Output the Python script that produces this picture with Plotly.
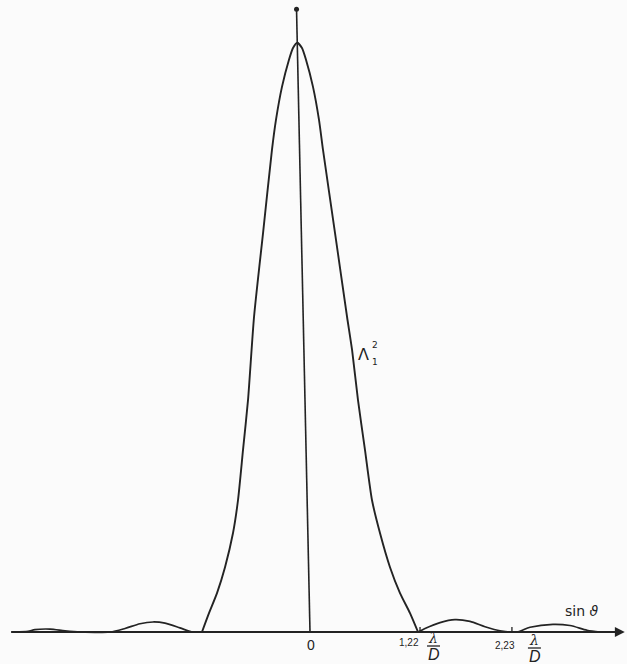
import plotly.graph_objects as go

# x in units of lambda/D, y = relative intensity (Lambda_1^2)
main_x = [-1.176, -1.099, -1.011, -0.923, -0.835, -0.780, -0.725, -0.670, -0.604,
          -0.505, -0.407, -0.363, -0.297, -0.220, -0.176, -0.129,
          -0.077, -0.033, 0.044, 0.110, 0.154, 0.286, 0.418, 0.473, 0.538,
          0.615, 0.692, 0.780, 0.890, 1.000, 1.110, 1.198]
main_y = [0.000, 0.032, 0.066, 0.110, 0.168, 0.224, 0.309, 0.394, 0.535,
          0.677, 0.818, 0.869, 0.925, 0.971, 0.991, 1.000,
          0.991, 0.971, 0.925, 0.869, 0.818, 0.677, 0.535, 0.479, 0.394,
          0.309, 0.224, 0.168, 0.110, 0.066, 0.032, 0.000]

right_lobe_x = [1.198, 1.275, 1.440, 1.604, 1.769, 1.934, 2.099, 2.286,
                2.429, 2.681, 2.868, 3.055, 3.198]
right_lobe_y = [0.000, 0.006, 0.016, 0.021, 0.018, 0.009, 0.002, 0.000,
                0.008, 0.013, 0.011, 0.003, 0.000]

left_lobe_x = [-1.176, -1.286, -1.418, -1.582, -1.714, -1.857, -2.022, -2.187,
               -2.516, -2.681, -2.846, -3.011, -3.088, -3.231]
left_lobe_y = [0.000, 0.000, 0.007, 0.015, 0.017, 0.014, 0.006, 0.000,
               0.000, 0.002, 0.005, 0.004, 0.001, 0.000]

# slightly tilted optical axis (hand drawn), with a dot at its top
axis_line_x = [-0.137, 0.011]
axis_line_y = [1.057, 0.0]

tick_vals = [1.22, 2.23]
tick_labels = ["1,22", "2,23"]
label_dx = [-11, -7]       # pixel offsets of the numbers
label_dy = [-10, -13]
frac_dx = [13, 22]         # pixel offsets of lambda/D fractions
frac_dy = [0, -2]

x_start, x_end = -3.29, 3.47

ink = "#232323"
fig = go.Figure()

fig.add_trace(go.Scatter(x=left_lobe_x, y=left_lobe_y, mode="lines",
                         line=dict(color=ink, width=1.7, shape="spline", smoothing=0.8)))
fig.add_trace(go.Scatter(x=right_lobe_x, y=right_lobe_y, mode="lines",
                         line=dict(color=ink, width=1.7, shape="spline", smoothing=0.8)))
fig.add_trace(go.Scatter(x=main_x, y=main_y, mode="lines",
                         line=dict(color=ink, width=1.9, shape="spline", smoothing=0.6)))
fig.add_trace(go.Scatter(x=axis_line_x, y=axis_line_y, mode="lines",
                         line=dict(color=ink, width=1.6)))
fig.add_trace(go.Scatter(x=[axis_line_x[0]], y=[axis_line_y[0]], mode="markers",
                         marker=dict(color=ink, size=5)))

# horizontal axis with arrow
fig.add_annotation(x=x_end, y=0, ax=x_start, ay=0, xref="x", yref="y",
                   axref="x", ayref="y", showarrow=True, arrowhead=2,
                   arrowsize=1.1, arrowwidth=1.8, arrowcolor=ink, text="", standoff=0)

fig.add_annotation(x=0.011, y=0, text="0", showarrow=False, yshift=-13, xshift=1,
                   font=dict(family="Liberation Sans", size=14, color=ink))

for tv, tl, lx, ly, fx, fy in zip(tick_vals, tick_labels, label_dx, label_dy, frac_dx, frac_dy):
    fig.add_shape(type="line", xref="x", yref="y", ysizemode="pixel", yanchor=0,
                  x0=tv, x1=tv, y0=0, y1=5, line=dict(color=ink, width=1.3))
    fig.add_annotation(x=tv, y=0, text=tl, showarrow=False, xshift=lx, yshift=ly,
                       font=dict(family="Liberation Sans", size=10, color=ink))
    fig.add_annotation(x=tv, y=0, text="<i>λ</i>", showarrow=False, xshift=fx, yshift=fy - 6,
                       font=dict(family="DejaVu Serif", size=14, color=ink))
    fig.add_annotation(x=tv, y=0, text="<i>D</i>", showarrow=False, xshift=fx + 1, yshift=fy - 22,
                       font=dict(family="Liberation Sans", size=16, color=ink))
    fig.add_shape(type="line", xref="x", yref="y", xsizemode="pixel", ysizemode="pixel",
                  xanchor=tv, yanchor=0, x0=fx - 6, x1=fx + 7, y0=fy - 14, y1=fy - 14,
                  line=dict(color=ink, width=1.3))

fig.add_annotation(x=x_end, y=0, text="sin <i>ϑ</i>", showarrow=False, xshift=-43, yshift=21,
                   font=dict(family="DejaVu Sans", size=14, color=ink))

# curve label Lambda_1^2
fig.add_annotation(x=0.60, y=0.467, text="Λ", showarrow=False, yshift=2,
                   font=dict(family="DejaVu Sans", size=16, color=ink))
fig.add_annotation(x=0.60, y=0.467, text="2", showarrow=False, xshift=11, yshift=12,
                   font=dict(family="DejaVu Sans", size=9, color=ink))
fig.add_annotation(x=0.60, y=0.467, text="1", showarrow=False, xshift=11, yshift=-5,
                   font=dict(family="DejaVu Sans", size=9, color=ink))

fig.update_layout(
    width=627, height=664,
    margin=dict(l=0, r=0, t=0, b=0),
    paper_bgcolor="#fbfbfb", plot_bgcolor="#fbfbfb",
    showlegend=False,
    xaxis=dict(range=[-3.3956, 3.4945], visible=False, fixedrange=True),
    yaxis=dict(range=[-0.0543, 1.0725], visible=False, fixedrange=True),
)

fig.write_html("out.html", config={"displayModeBar": False},
               post_script="document.body.style.margin='0';document.body.style.overflow='hidden';")
